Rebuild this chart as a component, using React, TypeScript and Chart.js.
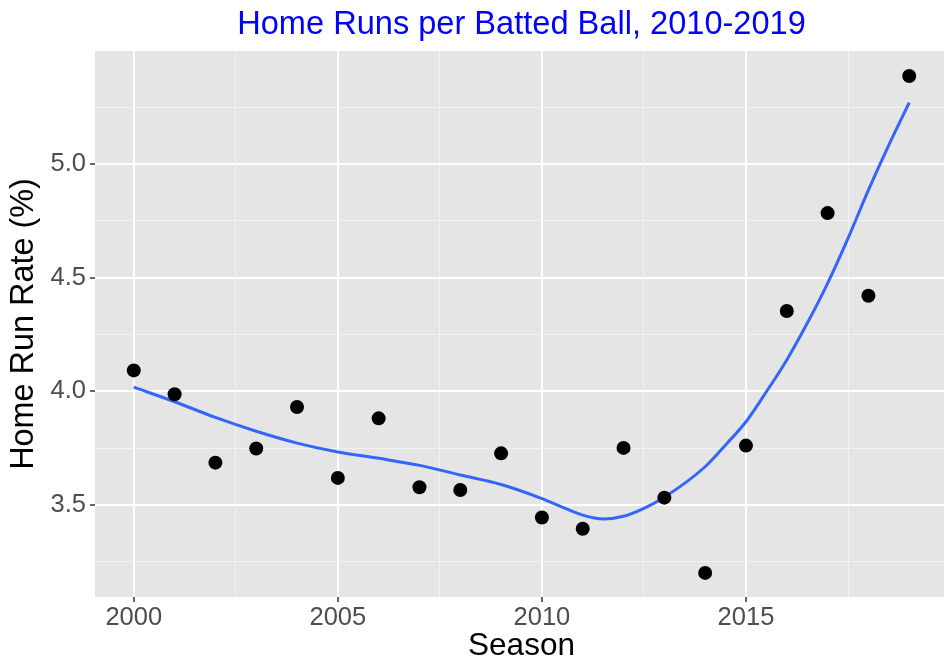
import React, { useEffect, useRef } from "react";
import { Chart, registerables } from "chart.js";

Chart.register(...registerables);

// ---- data ----
const seasons = [2000, 2001, 2002, 2003, 2004, 2005, 2006, 2007, 2008, 2009, 2010, 2011, 2012, 2013, 2014, 2015, 2016, 2017, 2018, 2019];
const hrRate = [4.092, 3.987, 3.686, 3.748, 3.931, 3.619, 3.881, 3.578, 3.566, 3.727, 3.445, 3.395, 3.751, 3.532, 3.201, 3.761, 4.353, 4.784, 4.420, 5.387];

// smoother (loess) curve
const fitSeasons = [2000, 2001, 2002, 2003, 2004, 2005, 2006, 2007, 2008, 2009, 2010, 2010.5, 2011, 2011.5, 2012, 2012.5, 2013, 2014, 2014.5, 2015, 2015.5, 2016, 2016.5, 2017, 2017.5, 2018, 2018.5, 2019];
const fitRate = [4.018, 3.954, 3.885, 3.824, 3.772, 3.733, 3.705, 3.674, 3.632, 3.590, 3.528, 3.490, 3.455, 3.438, 3.450, 3.485, 3.534, 3.668, 3.764, 3.866, 3.998, 4.138, 4.299, 4.475, 4.673, 4.885, 5.083, 5.270];

const xMajorTicks = [2000, 2005, 2010, 2015];
const xMinorTicks = [2002.5, 2007.5, 2012.5, 2017.5];
const yMajorTicks = [3.5, 4.0, 4.5, 5.0];
const yMinorTicks = [3.25, 3.75, 4.25, 4.75, 5.25];

const X_MIN = 1999.05;
const X_MAX = 2019.95;
const Y_MIN = 3.095;
const Y_MAX = 5.497;

const TITLE = "Home Runs per Batted Ball, 2010-2019";
const X_TITLE = "Season";
const Y_TITLE = "Home Run Rate (%)";

const FONT = "'Liberation Sans', Arial, Helvetica, sans-serif";

const panelBg = {
  id: "panelBg",
  beforeDraw(chart: any) {
    const { ctx, chartArea } = chart;
    ctx.save();
    ctx.fillStyle = "#E5E5E5";
    ctx.fillRect(chartArea.left, chartArea.top, chartArea.right - chartArea.left, chartArea.bottom - chartArea.top);
    ctx.restore();
  },
};

const isMajor = (list: number[], v: number) => list.some((m) => Math.abs(m - v) < 1e-6);

export default function App() {
  const ref = useRef<HTMLCanvasElement | null>(null);

  useEffect(() => {
    if (!ref.current) return;
    const chart = new Chart(ref.current, {
      type: "scatter",
      data: {
        datasets: [
          {
            label: "points",
            data: seasons.map((s, i) => ({ x: s, y: hrRate[i] })),
            backgroundColor: "#000000",
            borderColor: "#000000",
            pointRadius: 7,
            pointBorderWidth: 0,
            showLine: false,
          },
          {
            label: "fit",
            data: fitSeasons.map((s, i) => ({ x: s, y: fitRate[i] })),
            borderColor: "#3366FF",
            backgroundColor: "#3366FF",
            borderWidth: 3,
            pointRadius: 0,
            showLine: true,
            fill: false,
            cubicInterpolationMode: "monotone",
          } as any,
        ],
      },
      options: {
        responsive: false,
        animation: false,
        layout: { padding: 0 },
        plugins: {
          legend: { display: false },
          tooltip: { enabled: false },
          title: {
            display: true,
            text: TITLE,
            color: "#0000FF",
            fullSize: false,
            align: "center",
            font: { family: FONT, size: 32.6, weight: "normal" },
            padding: { top: 5.3, bottom: 6.6 },
          },
        },
        scales: {
          x: {
            type: "linear",
            min: X_MIN,
            max: X_MAX,
            afterBuildTicks(scale: any) {
              scale.ticks = [...xMajorTicks, ...xMinorTicks].sort((a, b) => a - b).map((v) => ({ value: v }));
            },
            afterFit(scale: any) {
              scale.height = 68;
            },
            border: { display: false },
            grid: {
              color: (c: any) => (isMajor(xMajorTicks, c.tick?.value) ? "#FFFFFF" : "#F2F2F2"),
              lineWidth: (c: any) => (isMajor(xMajorTicks, c.tick?.value) ? 2 : 1),
              tickColor: (c: any) => (isMajor(xMajorTicks, c.tick?.value) ? "#333333" : "rgba(0,0,0,0)"),
              tickWidth: 1.5,
              tickLength: 5,
              drawTicks: true,
            },
            ticks: {
              autoSkip: false,
              maxRotation: 0,
              padding: 1,
              color: "#4D4D4D",
              font: { family: FONT, size: 25.5 },
              callback: (v: any) => (isMajor(xMajorTicks, Number(v)) ? String(v) : ""),
            },
            title: {
              display: true,
              text: X_TITLE,
              color: "#000000",
              font: { family: FONT, size: 31.5 },
              padding: { top: 0, bottom: 0 },
            },
          },
          y: {
            type: "linear",
            min: Y_MIN,
            max: Y_MAX,
            afterBuildTicks(scale: any) {
              scale.ticks = [...yMajorTicks, ...yMinorTicks].sort((a, b) => a - b).map((v) => ({ value: v }));
            },
            afterFit(scale: any) {
              scale.width = 95;
            },
            border: { display: false },
            grid: {
              color: (c: any) => (isMajor(yMajorTicks, c.tick?.value) ? "#FFFFFF" : "#F2F2F2"),
              lineWidth: (c: any) => (isMajor(yMajorTicks, c.tick?.value) ? 2 : 1),
              tickColor: (c: any) => (isMajor(yMajorTicks, c.tick?.value) ? "#333333" : "rgba(0,0,0,0)"),
              tickWidth: 1.5,
              tickLength: 5,
              drawTicks: true,
            },
            ticks: {
              autoSkip: false,
              padding: 4,
              color: "#4D4D4D",
              font: { family: FONT, size: 25.5 },
              callback: (v: any) => (isMajor(yMajorTicks, Number(v)) ? Number(v).toFixed(1) : ""),
            },
            title: {
              display: true,
              text: Y_TITLE,
              color: "#000000",
              font: { family: FONT, size: 32.4 },
              padding: { top: 4.4, bottom: 0 },
            },
          },
        },
      },
      plugins: [panelBg],
    });
    return () => chart.destroy();
  }, []);

  return (
    <div style={{ position: "fixed", left: 0, top: 0, width: 944, height: 665, overflow: "hidden", background: "#FFFFFF" }}>
      <canvas ref={ref} width={955} height={665} style={{ width: 955, height: 665, display: "block" }} />
    </div>
  );
}
